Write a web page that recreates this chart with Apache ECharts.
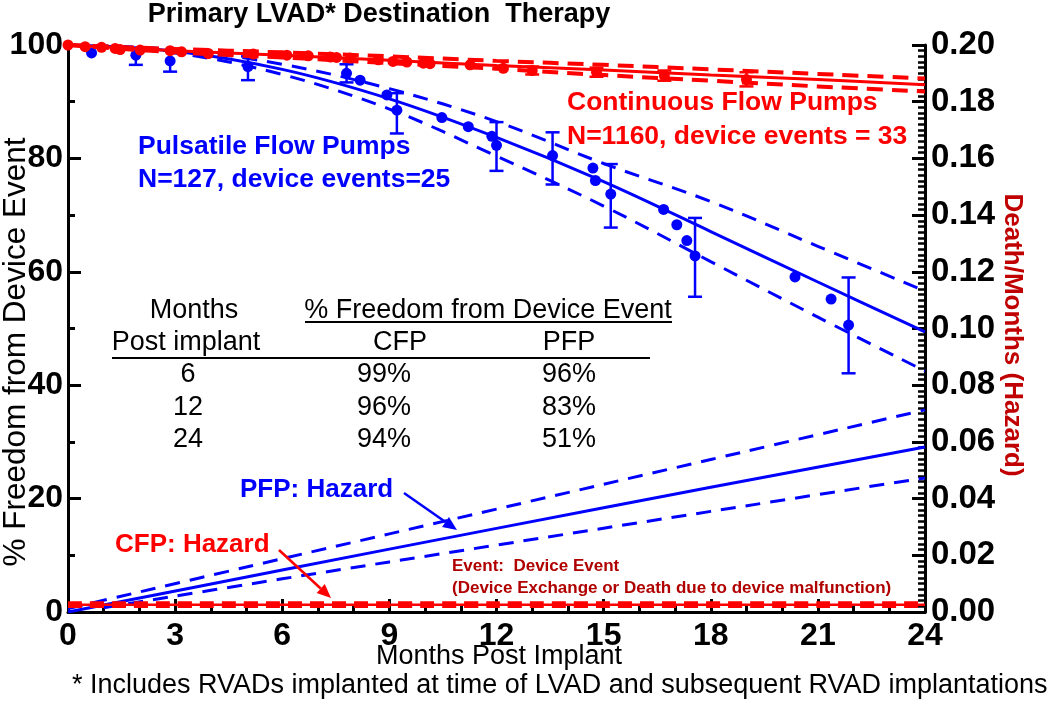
<!DOCTYPE html>
<html>
<head>
<meta charset="utf-8">
<script src="https://cdn.jsdelivr.net/npm/echarts@6/dist/echarts.min.js"></script>
<style>
html,body{margin:0;padding:0;background:#fff;}
#c{width:1050px;height:701px;}
</style>
</head>
<body>
<div id="c"></div>
<script>
// ---------- DATA ----------
const xTicks = [0, 3, 6, 9, 12, 15, 18, 21, 24];

// Pulsatile flow pumps (PFP) Kaplan-Meier points [month, % free]
const pfpPoints = [[0.66,98.6],[1.9,98.2],[2.86,97.2],[5.04,96.2],[7.8,95.0],[8.18,93.8],[8.93,91.2],[9.21,88.5],
  [10.47,87.2],[11.21,85.6],[11.87,83.9],[12.0,82.3],[13.57,80.5],[14.7,78.3],[14.77,76.1],[15.2,73.7],
  [16.68,71.0],[17.05,68.3],[17.33,65.5],[17.56,62.8],[20.36,59.1],[21.37,55.2],[21.86,50.6]];
// PFP error bars [month, low, high]
const pfpErrors = [[1.9,96.5,99.5],[2.86,95.3,99.0],[5.04,93.8,98.0],[7.8,93.4,96.6],[9.21,84.4,91.5],
  [12.0,77.8,86.4],[13.57,75.4,84.6],[15.2,67.8,79.0],[17.56,55.6,69.5],[21.86,42.1,59.0]];
// PFP parametric fit and confidence limits
const pfpFit   = [[0,100],[3,98.9],[6,95.7],[9,90.5],[12,83.7],[15,75.9],[18,67.1],[21,58.2],[24,49.4]];
const pfpUpper = [[0,100],[3,99.2],[6,96.6],[9,92.3],[12,86.5],[15,79.1],[18,72.4],[21,64.5],[24,56.6]];
const pfpLower = [[0,100],[3,98.6],[6,94.8],[9,88.7],[12,80.4],[15,71.6],[18,61.8],[21,52.0],[24,42.5]];

// Continuous flow pumps (CFP)
const cfpPoints = [[0,100],[0.48,99.7],[0.94,99.6],[1.32,99.4],[1.46,99.2],[2.02,99.1],[2.86,99.0],[3.18,98.8],
  [3.93,98.5],[5.19,98.4],[6.13,98.2],[6.73,98.1],[7.34,97.9],[7.52,97.8],[7.9,97.7],[8.69,97.4],[9.1,97.1],
  [9.49,97.0],[9.95,96.8],[10.14,96.7],[11.26,96.5],[12.19,95.9],[13.0,95.5],[14.8,95.2],[16.7,94.6],[19.0,93.9]];
const cfpErrors = [[13.0,94.8,96.2],[14.8,94.4,96.0],[16.7,93.7,95.5],[19.0,92.7,95.2]];
const cfpFit   = [[0,100],[3,99.0],[6,98.2],[9,97.3],[12,96.4],[15,95.6],[18,94.7],[21,93.9],[24,93.0]];
const cfpUpper = [[0,100],[3,99.3],[6,98.7],[9,98.0],[12,97.2],[15,96.5],[18,95.7],[21,94.9],[24,94.1]];
const cfpLower = [[0,100],[3,98.7],[6,97.8],[9,96.8],[12,95.8],[15,94.7],[18,93.7],[21,92.7],[24,91.8]];

// Hazard (deaths / month), right axis
const pfpHazard      = [[0,0],[6,0.0148],[12,0.0295],[18,0.044],[24,0.0582]];
const pfpHazardUpper = [[0,0.0012],[6,0.0188],[12,0.0363],[18,0.0538],[24,0.0713]];
const pfpHazardLower = [[1,0.0015],[6,0.0117],[12,0.0236],[18,0.0355],[24,0.0473]];
const cfpHazard      = [[0,0.0026],[12,0.0026],[24,0.0026]];
const cfpHazardUpper = [[0,0.0031],[12,0.0031],[24,0.0031]];
const cfpHazardLower = [[0,0.0021],[12,0.0021],[24,0.0021]];

// Table
const tableMonths = ['6', '12', '24'];
const tableCFP = ['99%', '96%', '94%'];
const tablePFP = ['96%', '83%', '51%'];

// ---------- CHART ----------
const BLUE = '#0000ff', RED = '#ff0000', DARKRED = '#c00000';
const FONT = '"Liberation Sans", Arial, Helvetica, sans-serif';

function errRender(color) {
  return function (params, api) {
    const x = api.value(0), lo = api.value(1), hi = api.value(2);
    const a = api.coord([x, lo]), b = api.coord([x, hi]);
    const w = 7;
    const st = { stroke: color, lineWidth: 2.5 };
    return { type: 'group', children: [
      { type: 'line', shape: { x1: a[0], y1: a[1], x2: b[0], y2: b[1] }, style: st },
      { type: 'line', shape: { x1: a[0] - w, y1: a[1], x2: a[0] + w, y2: a[1] }, style: st },
      { type: 'line', shape: { x1: b[0] - w, y1: b[1], x2: b[0] + w, y2: b[1] }, style: st }
    ]};
  };
}

function lineS(name, data, color, width, dash, yIdx, z) {
  return { name, type: 'line', data, yAxisIndex: yIdx || 0, showSymbol: false, symbol: 'none',
    smooth: 0.35, lineStyle: { color, width, type: dash ? dash : 'solid' }, z: z || 2, silent: true };
}

function txt(text, x, y, size, opts) {
  opts = opts || {};
  return { type: 'text', x, y, rotation: opts.rot || 0, z: 100,
    style: { text, font: (opts.bold ? 'bold ' : '') + size + 'px ' + FONT, fill: opts.color || '#000',
      align: opts.align || 'center', verticalAlign: 'middle' } };
}

function arrow(x1, y1, x2, y2, color) {
  const ang = Math.atan2(y2 - y1, x2 - x1), L = 14, W = 6;
  const bx = x2 - L * Math.cos(ang), by = y2 - L * Math.sin(ang);
  const px = -Math.sin(ang) * W, py = Math.cos(ang) * W;
  return [
    { type: 'line', z: 100, shape: { x1, y1, x2: bx, y2: by }, style: { stroke: color, lineWidth: 2.5 } },
    { type: 'polygon', z: 100, shape: { points: [[x2, y2], [bx + px, by + py], [bx - px, by - py]] }, style: { fill: color } }
  ];
}

const graphics = [
  txt('Primary LVAD* Destination  Therapy', 379, 15, 27, { bold: true }),
  txt('% Freedom from Device Event', 16, 352, 31.5, { rot: Math.PI / 2 }),
  txt('Death/Months (Hazard)', 1012, 335, 26, { bold: true, color: DARKRED, rot: -Math.PI / 2 }),
  txt('Months Post Implant', 499, 657, 27),
  txt('* Includes RVADs implanted at time of LVAD and subsequent RVAD implantations', 72, 686, 27, { align: 'left' }),
  txt('Pulsatile Flow Pumps', 138, 147, 26.5, { bold: true, color: BLUE, align: 'left' }),
  txt('N=127, device events=25', 138, 180, 26.5, { bold: true, color: BLUE, align: 'left' }),
  txt('Continuous Flow Pumps', 567, 103, 26.5, { bold: true, color: RED, align: 'left' }),
  txt('N=1160, device events = 33', 567, 137, 26.5, { bold: true, color: RED, align: 'left' }),
  txt('PFP: Hazard', 240, 490, 26, { bold: true, color: BLUE, align: 'left' }),
  txt('CFP: Hazard', 115, 545, 26, { bold: true, color: RED, align: 'left' }),
  txt('Event:  Device Event', 452, 566, 17, { bold: true, color: '#b00000', align: 'left' }),
  txt('(Device Exchange or Death due to device malfunction)', 452, 588, 17, { bold: true, color: '#b00000', align: 'left' }),
  // table
  txt('Months', 194, 311, 27),
  txt('% Freedom from Device Event', 488, 311, 27),
  txt('Post implant', 186, 343, 27),
  txt('CFP', 400, 343, 27),
  txt('PFP', 569, 343, 27),
  { type: 'line', z: 100, shape: { x1: 305, y1: 322, x2: 672, y2: 322 }, style: { stroke: '#000', lineWidth: 2 } },
  { type: 'line', z: 100, shape: { x1: 112, y1: 358, x2: 650, y2: 358 }, style: { stroke: '#000', lineWidth: 2 } }
];
tableMonths.forEach((m, i) => {
  const y = 375 + i * 32.5;
  graphics.push(txt(m, 188, y, 27));
  graphics.push(txt(tableCFP[i], 384, y, 27));
  graphics.push(txt(tablePFP[i], 569, y, 27));
});
graphics.push(...arrow(404, 493, 457, 530, BLUE));
graphics.push(...arrow(279, 550, 331, 598, RED));

const chart = echarts.init(document.getElementById('c'), null, { renderer: 'canvas' });
chart.setOption({
  animation: false,
  backgroundColor: '#fff',
  grid: { left: 68, right: 125, top: 45, bottom: 89, containLabel: false },
  xAxis: {
    type: 'value', min: 0, max: 24, interval: 3,
    axisLine: { show: true, onZero: false, lineStyle: { color: '#000', width: 3 } },
    axisTick: { show: true, inside: true, length: 13, lineStyle: { color: '#000', width: 3 } },
    minorTick: { show: true, splitNumber: 3, length: 8, lineStyle: { color: '#000', width: 3 } },
    axisLabel: { color: '#000', fontSize: 32, fontWeight: 'bold', fontFamily: FONT, margin: 8,
      formatter: v => xTicks.indexOf(v) >= 0 ? String(v) : '' },
    splitLine: { show: false }
  },
  yAxis: [
    {
      type: 'value', min: 0, max: 100, interval: 20, position: 'left',
      axisLine: { show: true, onZero: false, lineStyle: { color: '#000', width: 3 } },
      axisTick: { show: true, inside: true, length: 13, lineStyle: { color: '#000', width: 3 } },
      minorTick: { show: true, splitNumber: 2, length: 7, lineStyle: { color: '#000', width: 3 } },
      axisLabel: { color: '#000', fontSize: 32, fontWeight: 'bold', fontFamily: FONT, margin: 5 },
      splitLine: { show: false }
    },
    {
      type: 'value', min: 0, max: 0.2, interval: 0.02, position: 'right',
      axisLine: { show: true, onZero: false, lineStyle: { color: '#000', width: 3 } },
      axisTick: { show: true, inside: true, length: 13, lineStyle: { color: '#000', width: 3 } },
      minorTick: { show: true, splitNumber: 10, length: 7, lineStyle: { color: '#000', width: 2.5 } },
      axisLabel: { color: '#000', fontSize: 33, fontWeight: 'bold', fontFamily: FONT, margin: 6,
        formatter: v => v.toFixed(2) },
      splitLine: { show: false }
    }
  ],
  series: [
    // hazards
    lineS('PFP hazard upper', pfpHazardUpper, BLUE, 3, [15, 10], 1, 2),
    lineS('PFP hazard lower', pfpHazardLower, BLUE, 3, [15, 10], 1, 2),
    lineS('PFP hazard', pfpHazard, BLUE, 3, null, 1, 2),
    lineS('CFP hazard', cfpHazard, RED, 2.5, null, 1, 3),
    lineS('CFP hazard upper', cfpHazardUpper, RED, 4, [14, 8], 1, 3),
    lineS('CFP hazard lower', cfpHazardLower, RED, 4, [14, 8], 1, 3),
    // PFP survival
    lineS('PFP upper', pfpUpper, BLUE, 3, [15, 10], 0, 2),
    lineS('PFP lower', pfpLower, BLUE, 3, [15, 10], 0, 2),
    lineS('PFP fit', pfpFit, BLUE, 3, null, 0, 2),
    { name: 'PFP err', type: 'custom', renderItem: errRender(BLUE), data: pfpErrors,
      encode: { x: 0, y: [1, 2] }, z: 3, silent: true },
    { name: 'PFP KM', type: 'scatter', data: pfpPoints, symbolSize: 11,
      itemStyle: { color: BLUE, opacity: 1 }, z: 4, silent: true },
    // CFP survival
    lineS('CFP upper', cfpUpper, RED, 4, [16, 9], 0, 5),
    lineS('CFP lower', cfpLower, RED, 4, [16, 9], 0, 5),
    lineS('CFP fit', cfpFit, RED, 3, null, 0, 5),
    { name: 'CFP err', type: 'custom', renderItem: errRender(RED), data: cfpErrors,
      encode: { x: 0, y: [1, 2] }, z: 6, silent: true },
    { name: 'CFP KM', type: 'scatter', data: cfpPoints, symbolSize: 11,
      itemStyle: { color: RED, opacity: 1 }, z: 7, silent: true }
  ],
  graphic: graphics
});
</script>
</body>
</html>
